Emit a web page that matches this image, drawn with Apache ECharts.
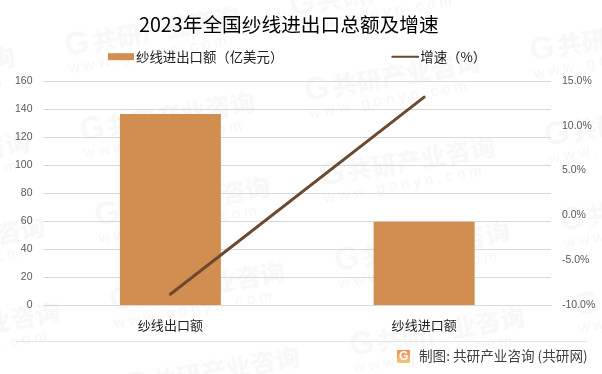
<!DOCTYPE html>
<html><head><meta charset="utf-8">
<style>html,body{margin:0;padding:0;background:#fff}#c{width:602px;height:374px}</style>
<script src="https://cdn.jsdelivr.net/npm/echarts@6/dist/echarts.min.js"></script>
</head><body><div id="c"></div>
<script>
var categories = ['纱线出口额','纱线进口额'];
var amountValues = [136.4, 59.4];
var growthValues = [-8.8, 13.2];
var leftTicks = [0,20,40,60,80,100,120,140,160];
var titleText = '2023年全国纱线进出口总额及增速';
var amountName = '纱线进出口额（亿美元）';
var growthName = '增速（%）';
var footerText = '制图: 共研产业咨询 (共研网)';
var wmLogo = 'G';
var wmMain = '共研产业咨询';
var wmSub = 'w w w . g o n y n . c o m';
var font = '"Noto Sans CJK SC","Microsoft YaHei",sans-serif';

var graphics = [];
for (var r = 0; r <= 6; r++) {
  for (var c = -1; c <= 2; c++) {
    var ox = 65 + 15*r + 225*c;
    var oy = 47 + 85*r - 40*c;
    if (oy < -40 || oy > 410) continue;
    graphics.push({type:'text',z:-1,silent:true,x:ox,y:oy,rotation:0.175,
      style:{text:wmLogo,font:'bold 32px "Liberation Sans",sans-serif',fill:'rgba(110,110,110,0.05)',textVerticalAlign:'middle'}});
    graphics.push({type:'text',z:-1,silent:true,x:ox+27,y:oy-5,rotation:0.175,
      style:{text:wmMain,font:'900 25px '+font,fill:'rgba(110,110,110,0.05)',textVerticalAlign:'middle'}});
    graphics.push({type:'text',z:-1,silent:true,x:ox+4,y:oy+22,rotation:0.175,
      style:{text:wmSub,font:'15px "Liberation Sans",sans-serif',fill:'rgba(110,110,110,0.07)',textVerticalAlign:'middle'}});
  }
}
graphics.push({type:'line',silent:true,shape:{x1:15,y1:341.5,x2:587,y2:341.5},style:{stroke:'#e6e6e6',lineWidth:1}});
graphics.push({type:'rect',silent:true,shape:{x:397,y:350,width:13,height:13,r:1},
  style:{fill:new echarts.graphic.LinearGradient(0,0,0,1,[{offset:0,color:'#f08a5a'},{offset:1,color:'#f8c878'}])}});
graphics.push({type:'text',silent:true,x:399,y:356.5,
  style:{text:wmLogo,font:'bold 12px "Liberation Sans",sans-serif',fill:'#fff',textAlign:'left',textVerticalAlign:'middle'}});
graphics.push({type:'text',silent:true,x:419,y:356,
  style:{text:footerText,font:'13.6px '+font,fill:'#404040',textVerticalAlign:'middle'}});

var chart = echarts.init(document.getElementById('c'),null,{renderer:'canvas'});
chart.setOption({
  animation:false,
  backgroundColor:'#fff',
  title:{text:titleText,left:139,top:15,padding:0,
    textStyle:{fontFamily:font,fontSize:19.7,fontWeight:'normal',color:'#000'}},
  legend:{top:50,left:108,padding:0,itemGap:108,itemWidth:26,itemHeight:7,
    textStyle:{fontFamily:font,fontSize:13.4,color:'#222',padding:[0,0,0,-3]},
    data:[{name:amountName,icon:'rect'},{name:growthName,itemStyle:{opacity:0}}]},
  grid:{left:43.5,right:51,top:81,bottom:69,containLabel:false},
  xAxis:{type:'category',data:categories,
    axisLine:{lineStyle:{color:'#d9d9d9'}},axisTick:{show:false},
    axisLabel:{fontFamily:font,fontSize:13,color:'#222',margin:14}},
  yAxis:[
    {type:'value',min:leftTicks[0],max:leftTicks[leftTicks.length-1],interval:20,
     axisLine:{show:false},axisTick:{show:false},
     axisLabel:{fontFamily:'"Liberation Sans",sans-serif',fontSize:10.5,color:'#595959',margin:11},
     splitLine:{lineStyle:{color:'#d9d9d9'}}},
    {type:'value',min:-10,max:15,interval:5,
     axisLine:{show:false},axisTick:{show:false},splitLine:{show:false},
     axisLabel:{fontFamily:'"Liberation Sans",sans-serif',fontSize:10.5,color:'#595959',margin:11,
       formatter:function(v){return v.toFixed(1)+'%';}}}
  ],
  series:[
    {name:amountName,type:'bar',data:amountValues,barWidth:101,itemStyle:{color:'#D28D50'},yAxisIndex:0},
    {name:growthName,type:'line',data:growthValues,yAxisIndex:1,symbol:'none',
     lineStyle:{color:'#6B4A2F',width:3,cap:'round'},itemStyle:{color:'#6B4A2F'}}
  ],
  graphic:graphics
});
</script></body></html>
